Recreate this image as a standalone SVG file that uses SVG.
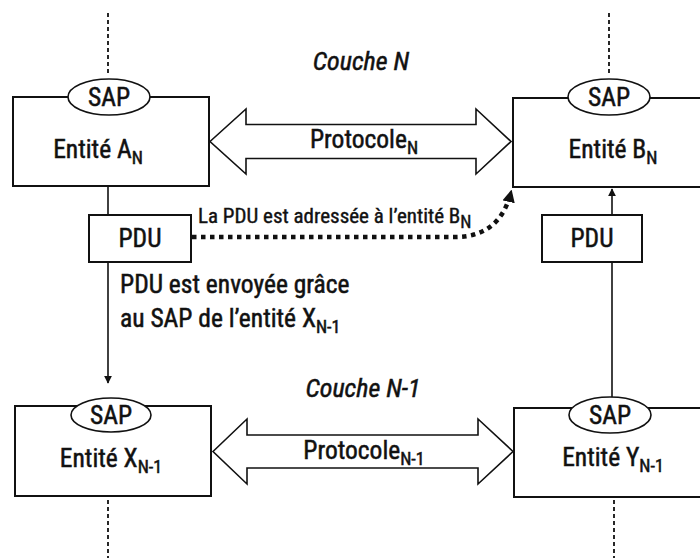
<svg xmlns="http://www.w3.org/2000/svg" width="700" height="558" viewBox="0 0 700 558">
<style>
text{font-family:"Liberation Sans Narrow","Roboto Condensed","Liberation Sans",sans-serif;fill:#111;stroke:#111;stroke-width:0.5;}
.t{font-size:25.5px;}
.s{font-size:18px;}
.sm{font-size:21px;stroke-width:0.4;}
.it{font-size:26px;font-style:italic;}
.box{fill:#fff;stroke:#111;stroke-width:2;}
.sap{fill:#fff;stroke:#111;stroke-width:1.6;}
.dot{stroke:#111;stroke-width:1.8;stroke-dasharray:4 3;fill:none;}
.ln{stroke:#111;stroke-width:1.6;fill:none;}
.big{fill:#fff;stroke:#111;stroke-width:1.6;}
</style>
<defs>
<marker id="ah" viewBox="0 0 10 10" refX="9" refY="5" markerWidth="8" markerHeight="8" markerUnits="userSpaceOnUse" orient="auto">
<path d="M0,0 L10,5 L0,10 z" fill="#111"/>
</marker>
<marker id="ah2" viewBox="0 0 10 10" refX="8" refY="5" markerWidth="2.8" markerHeight="2.8" orient="auto">
<path d="M0,0 L10,5 L0,10 z" fill="#111"/>
</marker>
</defs>

<g id="connectors">
<line class="dot" x1="108" y1="13" x2="108" y2="74"/>
<line class="dot" x1="609" y1="13" x2="609" y2="74"/>
<line class="dot" x1="108" y1="500" x2="108" y2="558"/>
<line class="dot" x1="614" y1="500" x2="614" y2="558"/>
<line class="ln" x1="108" y1="186" x2="108" y2="215"/>
<line class="ln" x1="108" y1="262" x2="108" y2="383" marker-end="url(#ah)"/>
<line class="ln" x1="612" y1="397" x2="612" y2="262"/>
<line class="ln" x1="612" y1="215" x2="612" y2="189" marker-end="url(#ah)"/>
<path d="M192,237 L455,237 Q500,237 511,192" fill="none" stroke="#111" stroke-width="4.5" stroke-dasharray="4.5 4.5" marker-end="url(#ah2)"/>
<polygon id="protoN" class="big" points="210,141.5 246,109 246,124.5 476,124.5 476,109 511,141.5 476,174 476,158.5 246,158.5 246,174"/>
<polygon id="protoN1" class="big" points="213,451.5 247,419 247,435 478,435 478,419 513,451.5 478,484 478,468 247,468 247,484"/>
</g>

<g id="labels">
<text class="it" x="361" y="70" text-anchor="middle">Couche N</text>
<text class="it" x="363" y="397" text-anchor="middle">Couche N-1</text>
<text class="t" x="364" y="148" text-anchor="middle">Protocole<tspan class="s" dy="6">N</tspan></text>
<text class="t" x="364" y="459" text-anchor="middle">Protocole<tspan class="s" dy="6">N-1</tspan></text>
<text class="sm" x="198" y="223">La PDU est adressée à l’entité B<tspan class="s" dy="5">N</tspan></text>
<text class="t" x="120" y="293">PDU est envoyée grâce</text>
<text class="t" x="120" y="327">au SAP de l’entité X<tspan class="s" dy="6">N-1</tspan></text>
</g>

<g id="entiteA">
<rect class="box" x="13" y="97" width="196" height="89"/>
<ellipse class="sap" cx="109" cy="97" rx="41" ry="18"/>
<text class="t" x="109" y="106" text-anchor="middle">SAP</text>
<text class="t" x="98" y="158" text-anchor="middle">Entité A<tspan class="s" dy="6">N</tspan></text>
</g>

<g id="entiteB">
<rect class="box" x="513" y="98" width="200" height="89"/>
<ellipse class="sap" cx="609" cy="97" rx="41" ry="18"/>
<text class="t" x="609" y="106" text-anchor="middle">SAP</text>
<text class="t" x="613" y="158" text-anchor="middle">Entité B<tspan class="s" dy="6">N</tspan></text>
</g>

<g id="pduA">
<rect class="box" x="89" y="215" width="102" height="47"/>
<text class="t" x="140" y="247" text-anchor="middle">PDU</text>
</g>

<g id="pduB">
<rect class="box" x="542" y="215" width="100" height="47"/>
<text class="t" x="592" y="247" text-anchor="middle">PDU</text>
</g>

<g id="entiteX">
<rect class="box" x="15" y="406" width="196" height="90"/>
<ellipse class="sap" cx="111" cy="415" rx="40" ry="17"/>
<text class="t" x="111" y="424" text-anchor="middle">SAP</text>
<text class="t" x="111" y="467" text-anchor="middle">Entité X<tspan class="s" dy="6">N-1</tspan></text>
</g>

<g id="entiteY">
<rect class="box" x="514" y="408" width="200" height="89"/>
<ellipse class="sap" cx="610" cy="415" rx="41" ry="18"/>
<text class="t" x="610" y="424" text-anchor="middle">SAP</text>
<text class="t" x="613" y="466" text-anchor="middle">Entité Y<tspan class="s" dy="6">N-1</tspan></text>
</g>
</svg>
